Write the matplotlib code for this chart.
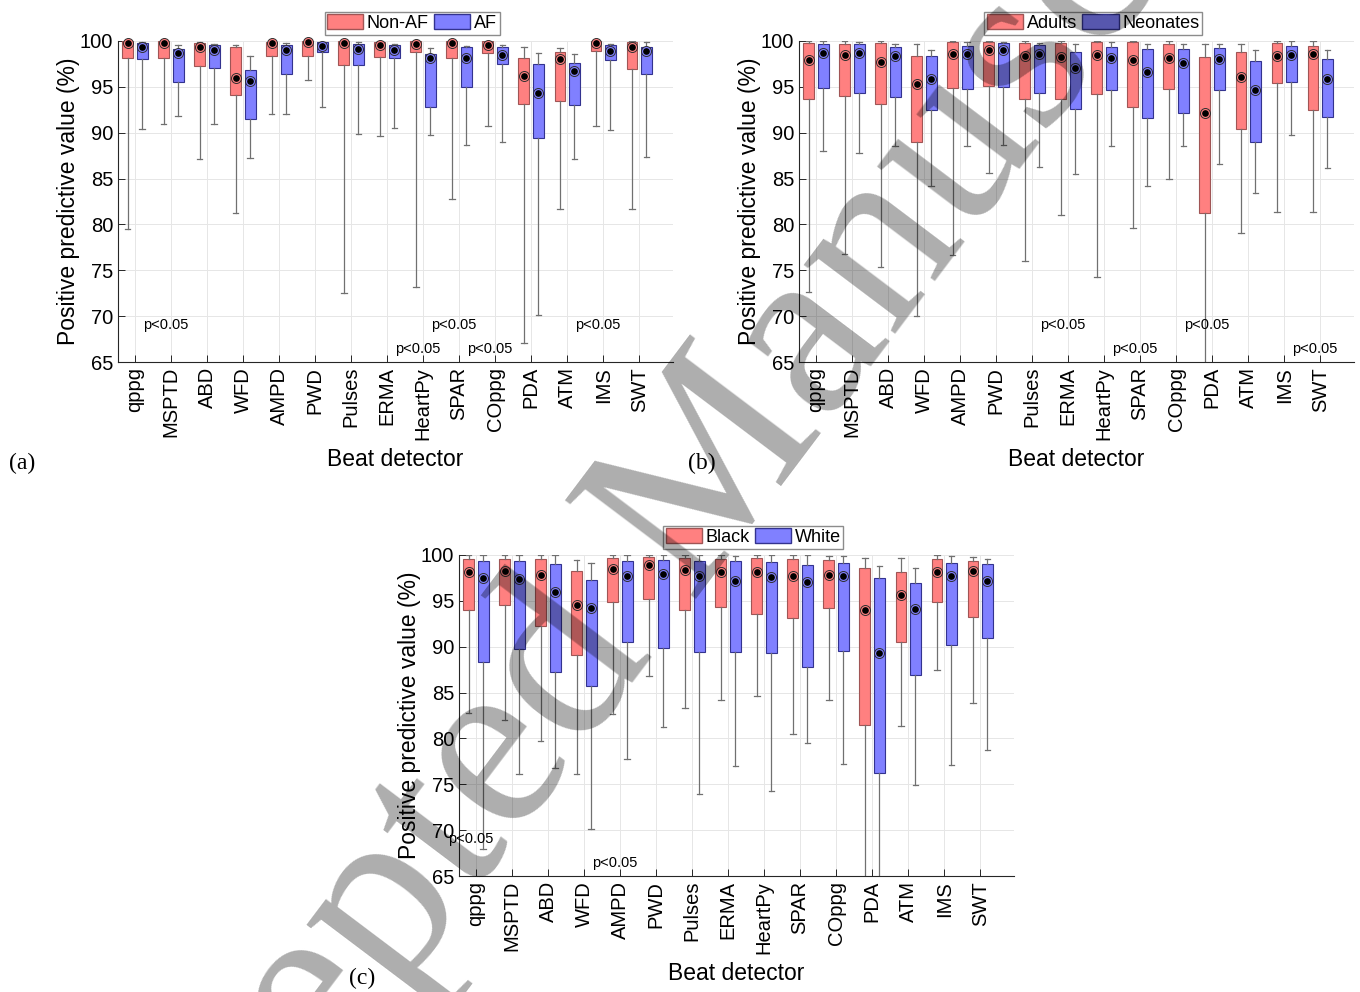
import numpy as np
from matplotlib import pyplot as plt

plt.rcParams['font.family'] = ['Liberation Sans', 'DejaVu Sans']

labels = ['qppg', 'MSPTD', 'ABD', 'WFD', 'AMPD', 'PWD', 'Pulses', 'ERMA',
          'HeartPy', 'SPAR', 'COppg', 'PDA', 'ATM', 'IMS', 'SWT']

# each row: lower whisker, q1, median, q3, upper whisker
non_af = [[79.5, 98.2, 99.75, 100, 100], [90.9, 98.15, 99.75, 100, 100],
          [87.1, 97.3, 99.4, 99.75, 99.85], [81.2, 94.1, 96.0, 99.35, 99.6],
          [92.0, 98.4, 99.75, 99.9, 100], [95.8, 98.4, 99.9, 100, 100],
          [72.5, 97.35, 99.75, 100, 100], [89.6, 98.3, 99.6, 99.9, 100],
          [73.2, 98.8, 99.7, 100, 100], [82.8, 98.1, 99.75, 100, 100],
          [90.75, 98.65, 99.6, 100, 100], [67.1, 93.1, 96.15, 98.1, 99.3],
          [81.7, 93.5, 98.0, 98.8, 99.2], [90.7, 98.9, 99.75, 100, 100],
          [81.7, 97.0, 99.4, 99.9, 100]]
af = [[90.4, 98.0, 99.35, 99.75, 99.9], [91.8, 95.5, 98.7, 99.1, 99.6],
      [91.0, 97.1, 99.0, 99.6, 99.7], [87.25, 91.45, 95.6, 96.8, 98.4],
      [92.0, 96.45, 99.0, 99.6, 99.8], [92.8, 98.8, 99.5, 99.9, 99.9],
      [89.9, 97.4, 99.1, 99.7, 99.9], [90.5, 98.2, 99.0, 99.6, 99.7],
      [89.7, 92.75, 98.1, 98.55, 99.2], [88.7, 95.0, 98.15, 99.3, 99.45],
      [89.0, 97.45, 98.5, 99.35, 99.6], [70.1, 89.4, 94.35, 97.5, 98.7],
      [87.1, 93.0, 96.7, 97.6, 98.55], [90.3, 97.9, 98.9, 99.6, 99.7],
      [87.3, 96.45, 98.9, 99.3, 99.9]]

adults = [[72.6, 93.65, 97.9, 99.75, 100], [76.75, 94.05, 98.45, 99.7, 100],
          [75.4, 93.1, 97.7, 99.75, 100], [70.0, 88.95, 95.3, 98.4, 99.7],
          [76.7, 94.85, 98.6, 99.85, 100], [85.6, 95.05, 99.0, 99.85, 100],
          [76.0, 93.7, 98.35, 99.8, 100], [81.0, 93.7, 98.25, 99.8, 100],
          [74.3, 94.2, 98.5, 99.85, 100], [79.6, 92.8, 97.9, 99.85, 100],
          [85.0, 94.75, 98.2, 99.7, 100], [60.0, 81.3, 92.1, 98.25, 99.7],
          [79.1, 90.4, 96.1, 98.75, 99.65], [81.35, 95.4, 98.35, 99.8, 100],
          [81.4, 92.5, 98.55, 99.5, 100]]
neonates = [[88.0, 94.9, 98.7, 99.65, 100], [87.8, 94.3, 98.65, 99.7, 99.9],
            [88.5, 93.85, 98.4, 99.3, 99.7], [84.2, 92.5, 95.9, 98.4, 99.0],
            [88.55, 94.8, 98.6, 99.5, 99.9], [88.65, 95.0, 99.0, 99.75, 99.9],
            [86.3, 94.35, 98.55, 99.55, 99.8], [85.5, 92.6, 97.1, 98.75, 99.65],
            [88.6, 94.65, 98.2, 99.3, 99.9], [84.2, 91.55, 96.6, 99.15, 99.7],
            [88.55, 92.1, 97.6, 99.1, 99.7], [86.55, 94.65, 98.05, 99.2, 99.7],
            [83.45, 89.0, 94.65, 97.8, 99.0], [89.75, 95.5, 98.5, 99.45, 100],
            [86.1, 91.7, 95.9, 98.0, 99.05]]

black = [[82.8, 94.0, 98.2, 99.6, 100], [82.05, 94.5, 98.25, 99.6, 100],
         [79.75, 92.3, 97.85, 99.6, 100], [76.1, 89.1, 94.55, 98.3, 99.5],
         [82.65, 94.9, 98.5, 99.7, 100], [86.8, 95.2, 98.9, 99.8, 100],
         [83.3, 94.0, 98.35, 99.7, 100], [84.2, 94.3, 98.2, 99.6, 100],
         [84.6, 93.6, 98.15, 99.7, 100], [80.5, 93.1, 97.75, 99.6, 100],
         [84.15, 94.25, 97.85, 99.5, 99.85], [60.0, 81.5, 94.05, 98.6, 99.65],
         [81.4, 90.5, 95.6, 98.2, 99.7], [87.5, 94.85, 98.2, 99.55, 100],
         [83.85, 93.2, 98.25, 99.4, 99.8]]
white = [[67.9, 88.3, 97.45, 99.3, 100], [76.1, 89.8, 97.35, 99.3, 100],
         [76.8, 87.2, 96.0, 99.05, 100], [70.15, 85.75, 94.25, 97.3, 99.15],
         [77.8, 90.5, 97.7, 99.3, 100], [81.3, 89.85, 97.95, 99.5, 100],
         [73.95, 89.45, 97.75, 99.35, 100], [76.95, 89.4, 97.2, 99.3, 99.9],
         [74.3, 89.3, 97.55, 99.2, 100], [79.5, 87.8, 97.1, 98.95, 100],
         [77.2, 89.55, 97.7, 99.1, 99.85], [60.0, 76.2, 89.35, 97.5, 98.8],
         [74.9, 86.9, 94.15, 97.0, 98.6], [77.1, 90.15, 97.75, 99.15, 99.85],
         [78.75, 91.0, 97.2, 99.05, 99.6]]

sig_a = ['MSPTD', 'HeartPy', 'SPAR', 'COppg', 'IMS']
sig_b = ['ERMA', 'SPAR', 'PDA', 'SWT']
sig_c = ['qppg', 'AMPD']

RED = '#FF8080'
BLUE = '#8080FF'
RED_EDGE = '#A05555'
BLUE_EDGE = '#33338F'

W, H = 1360, 992


def draw_group(ax, rows, pos, face, edge):
    stats = [dict(whislo=r[0], q1=r[1], med=r[2], q3=r[3], whishi=r[4])
             for r in rows]
    ax.bxp(stats, positions=pos, widths=0.3, patch_artist=True,
           showfliers=False, capwidths=0.15,
           boxprops=dict(facecolor=face, edgecolor=edge, linewidth=0.8),
           whiskerprops=dict(color='#707070', linewidth=0.9),
           capprops=dict(color='#707070', linewidth=0.9),
           medianprops=dict(linestyle='none'), zorder=2)
    meds = [r[2] for r in rows]
    ax.plot(pos, meds, 'o', ms=7.2, mfc=face, mec='#303030', mew=0.7,
            zorder=4, clip_on=False)
    ax.plot(pos, meds, 'o', ms=3.8, color='black', zorder=5, clip_on=False)


def panel(rect, g1, g2, names, sig, tag, tagpos):
    x0, y0, x1, y1 = rect
    ax = fig.add_axes([x0 / W, 1 - y1 / H, (x1 - x0) / W, (y1 - y0) / H])
    x = np.arange(1, len(labels) + 1)
    draw_group(ax, g1, x - 0.2, RED, RED_EDGE)
    draw_group(ax, g2, x + 0.2, BLUE, BLUE_EDGE)
    ax.set_xlim(0.53, 15.94)
    ax.set_ylim(65, 100)
    ax.set_yticks(np.arange(65, 101, 5))
    ax.set_xticks(x)
    ax.set_xticklabels(labels, rotation=90, fontsize=14.5)
    ax.tick_params(axis='y', labelsize=14.5)
    ax.tick_params(direction='in', length=5, width=0.7, color='#262626')
    ax.grid(True, color='#E6E6E6', linewidth=0.7)
    ax.set_axisbelow(True)
    for s in ['top', 'right']:
        ax.spines[s].set_visible(False)
    for s in ['left', 'bottom']:
        ax.spines[s].set_color('#262626')
        ax.spines[s].set_linewidth(0.8)
    ax.set_ylabel('Positive predictive value (%)', fontsize=16.5, labelpad=0)
    ax.set_xlabel('Beat detector', fontsize=16.5, labelpad=6)
    for k, name in enumerate(sig):
        yy = 69.0 if k % 2 == 0 else 66.4
        ax.text(labels.index(name) + 1 - 0.15, yy, 'p<0.05', fontsize=10.5,
                ha='center', va='center')
    h1 = plt.Rectangle((0, 0), 1, 1, facecolor=RED, edgecolor=RED_EDGE)
    h2 = plt.Rectangle((0, 0), 1, 1, facecolor=BLUE, edgecolor=BLUE_EDGE)
    ax.legend([h1, h2], names, loc='lower center', bbox_to_anchor=(0.53, 1.02),
              ncol=2, fontsize=13, frameon=True, fancybox=False,
              edgecolor='#8C8C8C', framealpha=1, borderpad=0.15,
              handlelength=2.0, handleheight=0.85, handletextpad=0.2,
              columnspacing=0.3, borderaxespad=0)
    fig.text(tagpos[0] / W, 1 - tagpos[1] / H, tag, fontsize=17,
             family='Liberation Serif', ha='center', va='center')
    return ax


fig = plt.figure(figsize=(W / 100, H / 100), dpi=100)

panel((118, 41, 673, 362), non_af, af, ['Non-AF', 'AF'], sig_a, '(a)', (22, 463))
panel((799, 41, 1354, 362), adults, neonates, ['Adults', 'Neonates'], sig_b,
      '(b)', (702, 463))
panel((459, 555, 1014, 876), black, white, ['Black', 'White'], sig_c,
      '(c)', (362, 978))

# watermark of the accepted manuscript
fig.text(684 / W, 1 - 515 / H, 'Accepted Manuscript', fontsize=180,
         family='Liberation Serif', color='black', alpha=0.32,
         rotation=53, ha='center', va='center', zorder=10)

fig.savefig('out.png', dpi=100)
